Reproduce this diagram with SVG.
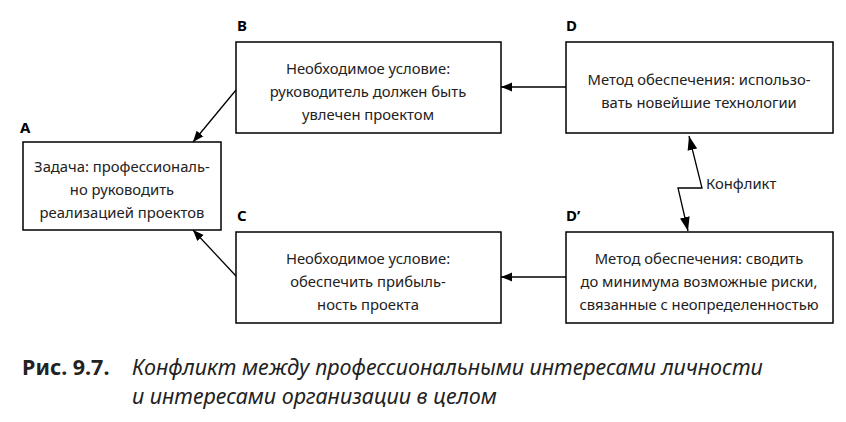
<svg xmlns="http://www.w3.org/2000/svg" width="846" height="422" viewBox="0 0 846 422">
<style>
.box{fill:#fff;stroke:#000;stroke-width:1.5}
.t{font-family:"Noto Sans","Liberation Sans",sans-serif;font-size:14.8px;fill:#222;text-anchor:middle}
.l{font-family:"Noto Sans","Liberation Sans",sans-serif;font-size:15px;font-weight:bold;fill:#000}
.c{stroke:#000;stroke-width:1.3;fill:none}
.cap{font-family:"Noto Sans","Liberation Sans",sans-serif;font-size:21.5px;fill:#222}
</style>
<defs><marker id="a" viewBox="0 0 10 10" refX="10" refY="5" markerWidth="11" markerHeight="11" markerUnits="userSpaceOnUse" orient="auto"><path d="M0,1 L10,5 L0,9 z" fill="#000"/></marker>
<marker id="a2" viewBox="0 0 10 10" refX="10" refY="5" markerWidth="14" markerHeight="14" markerUnits="userSpaceOnUse" orient="auto-start-reverse"><path d="M0,1.5 L10,5 L0,8.5 z" fill="#000"/></marker></defs>
<g id="A"><text class="l" x="20" y="133">A</text><rect class="box" x="23" y="142" width="198" height="88"/><text class="t" x="122" y="172">Задача: профессиональ-</text><text class="t" x="122" y="195">но руководить</text><text class="t" x="122" y="218">реализацией проектов</text></g>
<g id="B"><text class="l" x="237" y="31">B</text><rect class="box" x="236" y="42" width="265" height="91"/><text class="t" x="368" y="74">Необходимое условие:</text><text class="t" x="368" y="97">руководитель должен быть</text><text class="t" x="368" y="120">увлечен проектом</text></g>
<g id="C"><text class="l" x="237" y="221">C</text><rect class="box" x="236" y="232" width="265" height="91"/><text class="t" x="368" y="264">Необходимое условие:</text><text class="t" x="368" y="287">обеспечить прибыль-</text><text class="t" x="368" y="310">ность проекта</text></g>
<g id="D"><text class="l" x="566" y="31">D</text><rect class="box" x="566" y="42" width="267" height="91"/><text class="t" x="699" y="85">Метод обеспечения: использо-</text><text class="t" x="699" y="108">вать новейшие технологии</text></g>
<g id="D2"><text class="l" x="566" y="221">D’</text><rect class="box" x="566" y="232" width="267" height="91"/><text class="t" x="699" y="264">Метод обеспечения: сводить</text><text class="t" x="699" y="287">до минимума возможные риски,</text><text class="t" x="699" y="310">связанные с неопределенностью</text></g>
<g id="connectors">
<line class="c" x1="566" y1="87" x2="501" y2="87" marker-end="url(#a)"/>
<line class="c" x1="566" y1="277" x2="501" y2="277" marker-end="url(#a)"/>
<line class="c" x1="236" y1="90" x2="193" y2="142" marker-end="url(#a)"/>
<line class="c" x1="236" y1="276" x2="193" y2="230" marker-end="url(#a)"/>
<path class="c" d="M689,136 L702,188 L678,188 L688,231" marker-start="url(#a2)" marker-end="url(#a2)"/>
<text class="t" x="706" y="189" style="text-anchor:start">Конфликт</text>
</g>
<text class="cap" x="22" y="375" font-weight="bold">Рис. 9.7.</text>
<text class="cap" x="132" y="375" font-style="italic">Конфликт между профессиональными интересами личности</text>
<text class="cap" x="132" y="404" font-style="italic">и интересами организации в целом</text>
</svg>
